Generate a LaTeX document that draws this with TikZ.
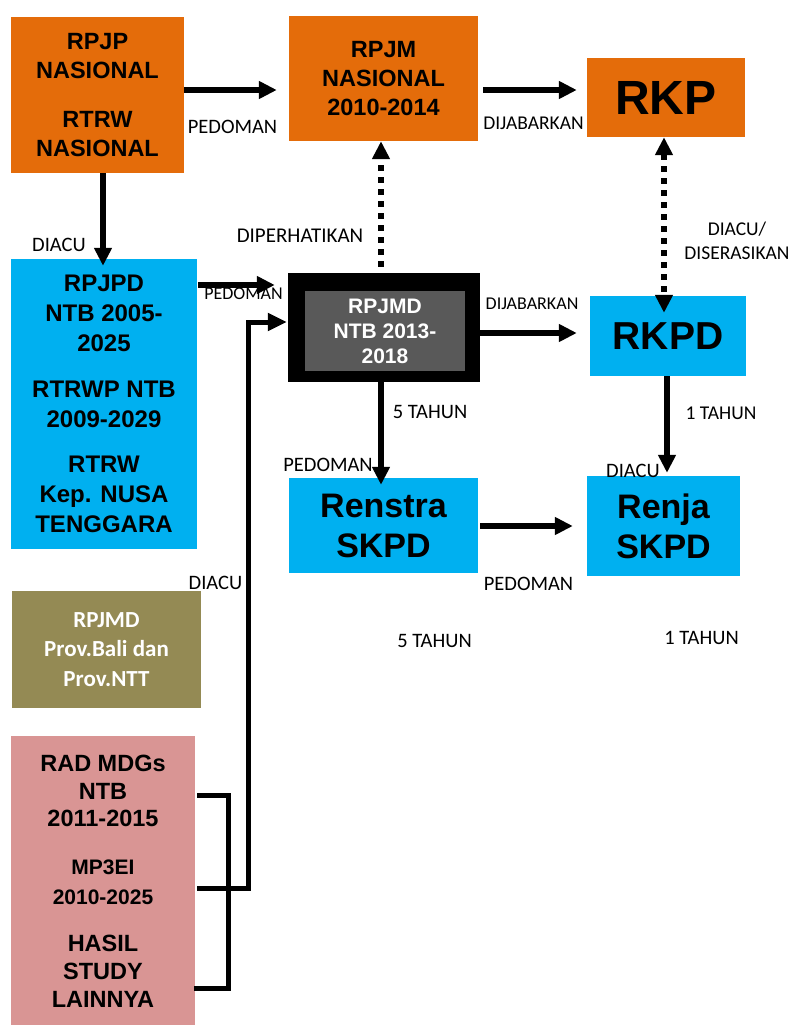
\documentclass[tikz,border=0pt]{standalone}
\usepackage{fontspec}
\setmainfont{Carlito}
\newfontfamily\arialfont{Liberation Sans}
\usepackage{xcolor}
\usepackage{tikz}
\usetikzlibrary{arrows.meta}
\definecolor{planorange}{RGB}{228,108,10}
\definecolor{planblue}{RGB}{0,176,240}
\definecolor{planolive}{RGB}{148,138,84}
\definecolor{planpink}{RGB}{217,149,148}
\definecolor{plangray}{RGB}{89,89,89}

\begin{document}
\begin{tikzpicture}[x=1pt,y=-1pt]
        \tikzstyle{box}=[rectangle,inner sep=0pt,align=center,text=black,
            font=\arialfont\bfseries\fontsize{23.5}{29}\selectfont]
        \tikzstyle{orangebox}=[box,fill=planorange]
        \tikzstyle{bluebox}=[box,fill=planblue]
        \tikzstyle{pinkbox}=[box,fill=planpink]
        \tikzstyle{lbl}=[inner sep=0pt,align=center,font=\fontsize{20.5}{24}\selectfont]
        \tikzstyle{arr}=[line width=6pt,-{Triangle[length=18pt,width=17pt]}]
        \tikzstyle{dotarr}=[arr,dash pattern=on 6pt off 6pt]
        \tikzstyle{brk}=[line width=5pt]
        \useasboundingbox (0,0) rectangle (790,1025);

        % national level
        \node[orangebox,minimum width=173pt,minimum height=156pt] (rpjp) at (97.5,95)
            {RPJP\\NASIONAL\\[20pt]RTRW\\NASIONAL};
        \node[orangebox,minimum width=189pt,minimum height=125pt] (rpjm) at (383.5,78.5)
            {RPJM\\NASIONAL\\2010-2014};
        \node[orangebox,minimum width=158pt,minimum height=79pt,
            font=\arialfont\bfseries\fontsize{48}{56}\selectfont] (rkp) at (666,97.5) {RKP};

        % province level
        \node[bluebox,minimum width=186pt,minimum height=290pt,
            font=\arialfont\bfseries\fontsize{24}{30}\selectfont] (rpjpd) at (104,404)
            {RPJPD\\NTB 2005-\\2025\\[15.5pt]RTRWP NTB\\2009-2029\\[15.5pt]RTRW\\Kep. NUSA\\TENGGARA};
        \node[box,fill=black,minimum width=192pt,minimum height=109pt] (rpjmd) at (384,327.5) {};
        \node[box,fill=plangray,text=white,minimum width=160pt,minimum height=80pt,
            font=\arialfont\bfseries\fontsize{21}{25}\selectfont] (rpjmdin) at (385,331)
            {RPJMD\\NTB 2013-\\2018};
        \node[bluebox,minimum width=156pt,minimum height=80pt,
            font=\arialfont\bfseries\fontsize{39}{46}\selectfont] (rkpd) at (668,336) {RKPD};
        \node[bluebox,minimum width=189pt,minimum height=95pt,
            font=\arialfont\bfseries\fontsize{34}{40}\selectfont] (renstra) at (383.5,525.5)
            {Renstra\\SKPD};
        \node[bluebox,minimum width=153pt,minimum height=100pt,
            font=\arialfont\bfseries\fontsize{34}{40}\selectfont] (renja) at (663.5,526)
            {Renja\\SKPD};

        % other references
        \node[box,fill=planolive,text=white,minimum width=189pt,minimum height=117pt,
            font=\bfseries\fontsize{23}{29.5}\selectfont] (rpjmdprov) at (106.5,649.5)
            {RPJMD\\Prov.Bali dan\\Prov.NTT};
        \node[pinkbox,minimum width=184pt,minimum height=110pt,
            font=\arialfont\bfseries\fontsize{23.5}{27.5}\selectfont] (mdgs) at (103,791)
            {RAD MDGs\\NTB\\2011-2015};
        \node[pinkbox,minimum width=184pt,minimum height=72pt,
            font=\arialfont\bfseries\fontsize{21}{30}\selectfont] (mpei) at (103,882)
            {MP3EI\\2010-2025};
        \node[pinkbox,minimum width=184pt,minimum height=107pt,
            font=\arialfont\bfseries\fontsize{23.5}{28}\selectfont] (hasil) at (103,971.5)
            {HASIL\\STUDY\\LAINNYA};

        % rows and columns of the connectors
        \coordinate (r1) at (0,90);
        \coordinate (r2) at (0,285);
        \coordinate (r3) at (0,333);
        \coordinate (r4) at (0,526);
        \coordinate (c1) at (103,0);
        \coordinate (c2) at (381,0);
        \coordinate (c3) at (664,0);
        \coordinate (c4) at (667,0);

        \draw[arr,shorten >=12pt] (rpjp.east |- r1) -- (rpjm.west |- r1);
        \draw[arr,shorten <=5pt,shorten >=10pt] (rpjm.east |- r1) -- (rkp.west |- r1);
        \draw[arr,shorten >=-7pt] (rpjp.south -| c1) -- (rpjpd.north -| c1);
        \draw[arr,shorten <=1pt,shorten >=13pt] (rpjpd.east |- r2) -- (rpjmd.west |- r2);
        \draw[dotarr,shorten <=-6pt] (rpjmd.north -| c2) -- (rpjm.south -| c2);
        \draw[arr,shorten >=13pt] (rpjmd.east |- r3) -- (rkpd.west |- r3);
        \draw[dotarr,{Triangle[length=18pt,width=17pt]}-{Triangle[length=18pt,width=17pt]},
            shorten >=-17pt] (rkp.south -| c3) -- (rkpd.north -| c3);
        \draw[arr,shorten >=-7pt] (rpjmdin.south -| c2) -- (renstra.north -| c2);
        \draw[arr,shorten >=3pt] (rkpd.south -| c4) -- (renja.north -| c4);
        \draw[arr,shorten <=2pt,shorten >=14pt] (renstra.east |- r4) -- (renja.west |- r4);

        % bracket of the pink boxes
        \coordinate (b1) at (228,795);
        \coordinate (b2) at (228,888);
        \coordinate (b3) at (228,988);
        \coordinate (f1) at (248,888);
        \coordinate (f2) at (248,322);
        \draw[brk,shorten <=2pt,shorten >=-1pt] (mdgs.east |- b1) -- (b1) -- (b3) -- (hasil.east |- b3);
        \draw[brk,shorten <=2pt] (mpei.east |- b2) -- (b2);
        \draw[brk,-{Triangle[length=19pt,width=17pt]},shorten >=1pt]
            (b2) -- (f1) -- (f2) -- (rpjmd.west |- f2);

        % labels
        \node[lbl] (ped1) at (232.5,127) {PEDOMAN};
        \node[lbl,font=\fontsize{19.5}{24}\selectfont] (jab1) at (533.5,123.5) {DIJABARKAN};
        \node[lbl] (diacu1) at (59,245) {DIACU};
        \node[lbl,font=\fontsize{21}{24}\selectfont] (perhatikan) at (300,235.5) {DIPERHATIKAN};
        \node[lbl,font=\fontsize{18}{22}\selectfont] (ped2) at (243.5,294) {PEDOMAN};
        \node[lbl,font=\fontsize{19.5}{24}\selectfont] (diserasi) at (737,241) {DIACU/\\DISERASIKAN};
        \node[lbl,font=\fontsize{18}{22}\selectfont] (jab2) at (532,303.5) {DIJABARKAN};
        \node[lbl] (tahun5a) at (430,411.5) {5 TAHUN};
        \node[lbl] (ped3) at (328,465) {PEDOMAN};
        \node[lbl,font=\fontsize{19.5}{24}\selectfont] (tahun1a) at (721,413) {1 TAHUN};
        \node[lbl] (diacu2) at (633,470.5) {DIACU};
        \node[lbl] (ped4) at (528.5,583.5) {PEDOMAN};
        \node[lbl] (diacu3) at (215.5,583) {DIACU};
        \node[lbl] (tahun5b) at (434.5,641) {5 TAHUN};
        \node[lbl] (tahun1b) at (701.5,638) {1 TAHUN};
        \end{tikzpicture}
\end{document}
